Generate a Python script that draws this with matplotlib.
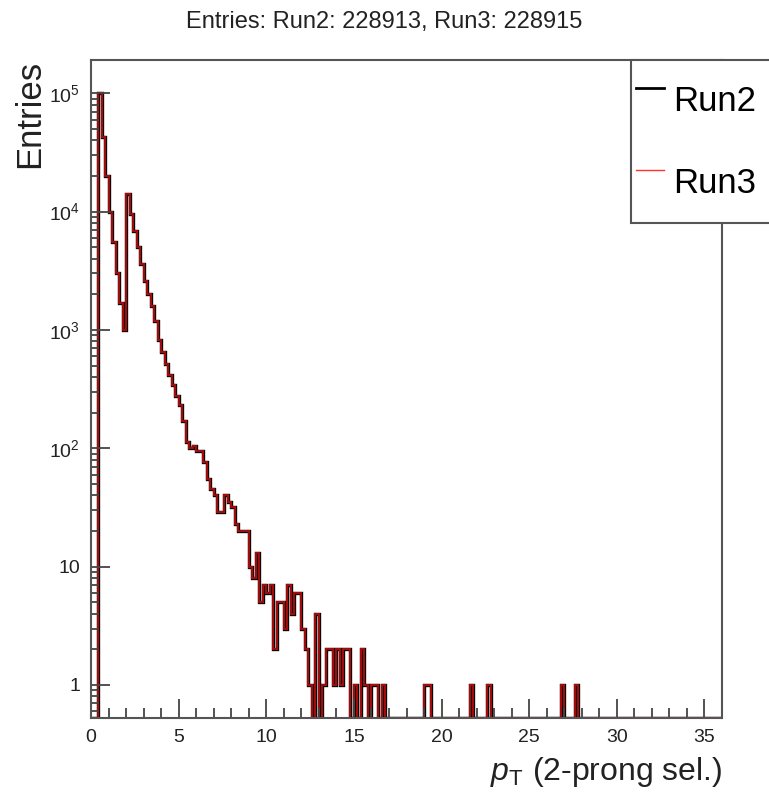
import numpy as np
import matplotlib
matplotlib.use("Agg")
import matplotlib.pyplot as plt
from matplotlib.lines import Line2D
from matplotlib.ticker import FixedLocator, MultipleLocator, NullFormatter

plt.rcParams['font.family'] = ['Liberation Sans', 'DejaVu Sans']
plt.rcParams['mathtext.fontset'] = 'custom'
plt.rcParams['mathtext.rm'] = 'Liberation Sans'
plt.rcParams['mathtext.it'] = 'Liberation Sans:italic'
plt.rcParams['mathtext.default'] = 'regular'

# histogram binning (pT, 0.2 wide bins from 0 to 36)
bin_width = 0.2
n_bins = 180

# counts of the first 84 bins (0 - 16.8)
core_counts = [
    0, 0, 100000, 43000, 20000, 10000, 5500, 3000, 1700, 1000,
    14000, 9600, 6800, 5000, 3600, 2600, 2000, 1600, 1200, 830,
    650, 520, 420, 340, 275, 230, 170, 112, 100, 105,
    95, 95, 76, 55, 45, 40, 29, 29, 40, 35,
    32, 23, 20, 20, 20, 10, 8, 13, 5, 7,
    6, 7, 2, 5, 5, 3, 7, 4, 6, 6,
    3, 2, 1, 0, 4, 0, 1, 2, 2, 1,
    2, 1, 2, 2, 0, 1, 0, 2, 1, 0,
    1, 1, 0, 1,
]
# isolated single entries further out (low edge of bin, count)
tail_low_edges = [19.0, 19.2, 21.6, 22.6, 26.8, 27.6]
tail_counts = [1, 1, 1, 1, 1, 1]

run2_counts = np.zeros(n_bins)
run2_counts[:len(core_counts)] = core_counts
for lo, c in zip(tail_low_edges, tail_counts):
    run2_counts[int(round(lo / bin_width))] = c
# Run3 is the same sample up to two entries
run3_counts = run2_counts.copy()

edges = np.arange(n_bins + 1) * bin_width

entries_run2 = 228913
entries_run3 = 228915

y_min, y_max = 0.526, 1.91e5

fig = plt.figure(figsize=(7.69, 8.06), dpi=100)
ax = fig.add_axes([91 / 769, 1 - 718 / 806, 631 / 769, 658 / 806])

# zero bins sit on the bottom of the frame, like ROOT draws them
ax.stairs(np.maximum(run2_counts, y_min), edges, baseline=None,
          color='black', lw=2.4)
ax.stairs(np.maximum(run3_counts, y_min), edges, baseline=None,
          color='#b81010', lw=1.6, alpha=0.85)

ax.set_yscale('log')
ax.set_xlim(0, 36)
ax.set_ylim(y_min, y_max)

ax.xaxis.set_major_locator(MultipleLocator(5))
ax.xaxis.set_minor_locator(MultipleLocator(1))
y_major = [1, 10, 100, 1000, 10000, 100000]
y_labels = ['1', '10', r'$10^{2}$', r'$10^{3}$', r'$10^{4}$', r'$10^{5}$']
ax.yaxis.set_major_locator(FixedLocator(y_major))
ax.set_yticklabels(y_labels)
minor = [m * 10 ** d for d in range(-1, 6) for m in range(2, 10)]
ax.yaxis.set_minor_locator(FixedLocator(minor))
ax.yaxis.set_minor_formatter(NullFormatter())

ax.tick_params(axis='both', which='both', direction='in', colors='#444',
               labelcolor='#222', width=1.3, top=False, right=False)
ax.tick_params(axis='x', which='major', length=14, labelsize=14, pad=8)
ax.tick_params(axis='x', which='minor', length=7)
ax.tick_params(axis='y', which='major', length=14, labelsize=14, pad=8)
ax.tick_params(axis='y', which='minor', length=6)
for sp in ax.spines.values():
    sp.set_color('#555')
    sp.set_linewidth(1.5)

fig.text(0.5, 1 - 22 / 806,
         f'Entries: Run2: {entries_run2}, Run3: {entries_run3}',
         ha='center', va='center', fontsize=17, color='#222')
fig.text(30 / 769, 1 - 60 / 806, 'Entries', rotation=90,
         ha='center', va='top', fontsize=25, color='#222')
fig.text(722 / 769, 1 - 772 / 806, r'$\mathit{p}_{T}$ (2-prong sel.)',
         ha='right', va='center', fontsize=23, color='#222')

handles = [Line2D([], [], color='black', lw=2),
           Line2D([], [], color='#ff3030', lw=1)]
leg = ax.legend(handles, ['Run2', 'Run3'], loc='upper left',
                bbox_to_anchor=(631 / 769, 1 - 223 / 806, 0.25, 163 / 806),
                bbox_transform=fig.transFigure, mode='expand',
                borderaxespad=0, borderpad=0.15, handlelength=0.8,
                handletextpad=0.25, labelspacing=0.33, handleheight=2.75,
                fontsize=25, frameon=True, fancybox=False, framealpha=1)
leg.get_frame().set_edgecolor('#555')
leg.get_frame().set_linewidth(1.5)

fig.savefig('out.png', dpi=100)
